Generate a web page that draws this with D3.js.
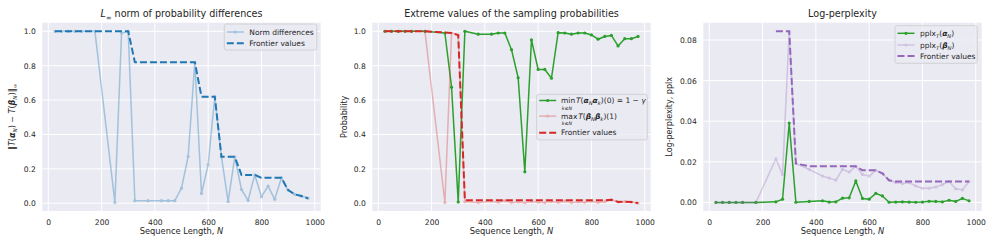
<!DOCTYPE html>
<html>
<head>
<meta charset="utf-8">
<script src="https://cdn.jsdelivr.net/npm/d3@7"></script>
<style>
  body { margin: 0; background: #fff; }
  svg { font-family: "DejaVu Sans", sans-serif; }
</style>
</head>
<body>
<div id="chart"></div>
<script>
// sequence lengths (shared by all three panels)
var seqLen = [25,50,75,100,125,175,250,275,300,325,375,425,450,475,500,525,550,575,600,625,650,675,700,725,750,775,800,825,850,875,900,925,950,975];

// panel 1: L-inf norm
var normDiff = [1,1,1,1,1,1,0.005,0.99,1.0,0.015,0.015,0.015,0.015,0.015,0.088,0.272,0.82,0.057,0.224,0.62,0.27,0.01,0.27,0.08,0.017,0.165,0.038,0.1,0.023,0.148,0.077,0.052,0.042,0.029];
var normFrontier = [1,1,1,1,1,1,1,1,1,0.82,0.82,0.82,0.82,0.82,0.82,0.82,0.82,0.62,0.62,0.62,0.27,0.27,0.27,0.165,0.165,0.165,0.148,0.148,0.148,0.148,0.077,0.052,0.042,0.029];

// panel 2: extreme sampling probabilities
var minAlpha = [1,1,1,1,1,1,0.99,0.675,0.008,1.0,0.983,0.983,0.99,0.99,0.893,0.73,0.183,0.95,0.778,0.778,0.727,0.992,0.99,0.983,0.99,0.99,0.979,0.954,0.97,0.976,0.915,0.957,0.957,0.97];
var maxBeta = [1,1,1,1,1,1,0.005,0.99,0.978,0.01,0.005,0.012,0.006,0.014,0.004,0.008,0.003,0.01,0.006,0.004,0.01,0.005,0.012,0.004,0.008,0.006,0.012,0.005,0.009,0.02,0.008,0.009,0.007,0.001];
var probFrontier = [1,1,1,1,1,1,0.993,0.99,0.978,0.017,0.017,0.017,0.017,0.017,0.017,0.017,0.017,0.017,0.017,0.017,0.017,0.017,0.017,0.017,0.017,0.017,0.017,0.017,0.017,0.02,0.008,0.009,0.007,0.001];

// panel 3: log-perplexity
var pplxAlpha = [0,0,0,0,0,0,0.0003,0.0016,0.0391,0.0001,0.0005,0.0008,0.0002,0.0003,0.0021,0.0023,0.0106,0.002,0.0016,0.0045,0.0032,0.0001,0.0002,0.0003,0.0002,0.0001,0.0002,0.0006,0.0005,0.0003,0.0011,0.0005,0.002,0.0008];
var pplxBeta = [0,0,0,0,0,0,0.0215,0.0138,0.0843,0.0192,0.0163,0.013,0.012,0.011,0.0163,0.015,0.0178,0.0138,0.013,0.0158,0.0143,0.0109,0.0098,0.0093,0.0098,0.0081,0.007,0.007,0.0076,0.0088,0.0103,0.0067,0.0062,0.0103];
var pplxFrontier = [null,null,null,null,null,null,0.0843,0.0843,0.0843,0.0192,0.0178,0.0178,0.0178,0.0178,0.0178,0.0178,0.0178,0.0158,0.0158,0.0158,0.0143,0.0109,0.0103,0.0103,0.0103,0.0103,0.0103,0.0103,0.0103,0.0103,0.0103,0.0103,0.0103,0.0103];

// tick labels
var xTicks = [0,200,400,600,800,1000];
var probTicks = [0,0.2,0.4,0.6,0.8,1.0];
var pplxTicks = [0,0.02,0.04,0.06,0.08];

var BG = "#EAEAF2", TXT = "#262626";
var blue = "#1f77b4", green = "#2ca02c", red = "#d62728", purple = "#9467bd";

var svg = d3.select("#chart").append("svg")
    .attr("width", 996)
    .attr("height", 249);

// write mixed math-ish text as tspans
// segs: {t, i (italic), b (bold), sub, mark (remember width), under (placed below the marked part)}
function richText(sel, segs, size, x0) {
  var shift = 0, markLen = 0, back = false;
  segs.forEach(function(s) {
    var ts;
    if (s.under) {
      ts = sel.append("tspan").text(s.t)
          .attr("x", x0 + 0.8)
          .attr("dy", 6.4 - shift)
          .style("font-size", "4.8px").style("font-style", "italic");
      shift = 6.4;
      back = true;
      return;
    }
    var want = s.sub ? size * 0.28 : 0;
    ts = sel.append("tspan").text(s.t)
        .attr("dy", want - shift)
        .style("font-size", (s.sub ? size * 0.7 : size) + "px");
    if (back) { ts.attr("x", x0 + markLen + 0.8); back = false; }
    if (s.i) ts.style("font-style", "italic");
    if (s.b) ts.style("font-weight", "bold");
    if (s.mark) markLen = ts.node().getComputedTextLength();
    shift = want;
  });
  return sel;
}

function panel(opt) {
  var width = 278.4, height = 188.3;
  var g = svg.append("g")
      .attr("transform", "translate(" + opt.left + "," + opt.top + ")");

  var x = d3.scaleLinear().domain([-22.5, 1022.5]).range([0, width]);
  var y = d3.scaleLinear().domain(opt.yDomain).range([height, 0]);

  g.append("rect").attr("width", width).attr("height", height).attr("fill", BG);

  // grid
  g.selectAll(".vg").data(xTicks).enter().append("line")
      .attr("x1", function(d) { return x(d); }).attr("x2", function(d) { return x(d); })
      .attr("y1", 0).attr("y2", height)
      .attr("stroke", "#fff").attr("stroke-width", 1);
  g.selectAll(".hg").data(opt.yTicks).enter().append("line")
      .attr("y1", function(d) { return y(d); }).attr("y2", function(d) { return y(d); })
      .attr("x1", 0).attr("x2", width)
      .attr("stroke", "#fff").attr("stroke-width", 1);

  // axes
  var xa = g.append("g")
      .attr("transform", "translate(0," + height + ")")
      .call(d3.axisBottom(x).tickValues(xTicks).tickSize(0).tickPadding(9).tickFormat(d3.format("d")));
  var ya = g.append("g")
      .call(d3.axisLeft(y).tickValues(opt.yTicks).tickSize(0).tickPadding(6.5).tickFormat(d3.format(opt.yFmt)));
  [xa, ya].forEach(function(a) {
    a.select(".domain").remove();
    a.selectAll("text").attr("fill", TXT).style("font-size", "7.6px").style("font-family", "DejaVu Sans");
  });

  // series
  opt.series.forEach(function(s) {
    var pts = seqLen.map(function(n, i) { return [n, s.values[i]]; })
        .filter(function(p) { return p[1] !== null; });
    var line = d3.line()
        .x(function(d) { return x(d[0]); })
        .y(function(d) { return y(d[1]); });
    var sg = g.append("g").attr("opacity", s.alpha);
    sg.append("path").datum(pts)
        .attr("d", line)
        .attr("fill", "none")
        .attr("stroke", s.color)
        .attr("stroke-width", s.dash ? 2 : 1.5)
        .attr("stroke-dasharray", s.dash ? "7,3" : null)
        .attr("stroke-linejoin", "round");
    if (s.marker) {
      sg.selectAll("circle").data(pts).enter().append("circle")
          .attr("cx", function(d) { return x(d[0]); })
          .attr("cy", function(d) { return y(d[1]); })
          .attr("r", 1.6)
          .attr("fill", s.color);
    }
  });

  // title
  richText(g.append("text")
      .attr("x", width / 2).attr("y", -5.5)
      .attr("text-anchor", "middle").attr("fill", TXT), opt.title, 9.6, 0);

  // x label
  richText(g.append("text")
      .attr("x", width / 2).attr("y", height + 23.5)
      .attr("text-anchor", "middle").attr("fill", TXT),
      [{t: "Sequence Length, "}, {t: "N", i: true}], 8.3, 0);

  // y label
  richText(g.append("text")
      .attr("transform", "translate(" + opt.yLabelX + "," + (height / 2) + ") rotate(-90)")
      .attr("text-anchor", "middle").attr("fill", TXT), opt.yLabel, 8, 0);

  // legend
  var L = opt.legend;
  var lg = g.append("g").attr("transform", "translate(" + (L.x - opt.left) + "," + (L.y - opt.top) + ")");
  lg.append("rect")
      .attr("width", L.w).attr("height", L.h).attr("rx", 2)
      .attr("fill", BG).attr("fill-opacity", 0.8)
      .attr("stroke", "#cccccc").attr("stroke-width", 0.8);
  L.rows.forEach(function(r, i) {
    var s = opt.series[i];
    var ry = L.rowY[i];
    var hg = lg.append("g").attr("opacity", s.alpha);
    hg.append("line")
        .attr("x1", 2.5).attr("x2", 19.5).attr("y1", ry).attr("y2", ry)
        .attr("stroke", s.color)
        .attr("stroke-width", s.dash ? 2 : 1.5)
        .attr("stroke-dasharray", s.dash ? "7,3" : null);
    if (s.marker) hg.append("circle").attr("cx", 11).attr("cy", ry).attr("r", 1.6).attr("fill", s.color);
    var t = lg.append("text").attr("x", L.textX).attr("y", ry + 2.7).attr("fill", TXT);
    richText(t, r.segs, 7.5, L.textX);
  });
}

var alphaN = [{t: "α", i: true, b: true}, {t: "N", i: true, sub: true}];
var betaN = [{t: "β", i: true, b: true}, {t: "N", i: true, sub: true}];

panel({
  left: 42.3, top: 22.7,
  yDomain: [-0.045, 1.05], yTicks: probTicks, yFmt: ".1f",
  title: [{t: "L", i: true}, {t: "∞", sub: true}, {t: " norm of probability differences"}],
  yLabel: [{t: "‖"}, {t: "T", i: true}, {t: "("}].concat(alphaN, [{t: ") − "}, {t: "T", i: true}, {t: "("}], betaN, [{t: ")‖"}, {t: "∞", sub: true}]),
  yLabelX: -27.5,
  series: [
    {values: normDiff, color: blue, alpha: 0.35, marker: true},
    {values: normFrontier, color: blue, alpha: 1, dash: true}
  ],
  legend: {x: 224.3, y: 24, w: 92.5, h: 26, textX: 25, rowY: [8, 19.3],
    rows: [{segs: [{t: "Norm differences"}]}, {segs: [{t: "Frontier values"}]}]}
});

panel({
  left: 372.3, top: 22.7,
  yDomain: [-0.045, 1.05], yTicks: probTicks, yFmt: ".1f",
  title: [{t: "Extreme values of the sampling probabilities"}],
  yLabel: [{t: "Probability"}],
  yLabelX: -25.5,
  series: [
    {values: minAlpha, color: green, alpha: 1, marker: true},
    {values: maxBeta, color: red, alpha: 0.3, marker: true},
    {values: probFrontier, color: red, alpha: 1, dash: true}
  ],
  legend: {x: 536.7, y: 94.3, w: 110.6, h: 45.5, textX: 24.3, rowY: [6.2, 21.8, 38.5],
    rows: [
      {segs: [{t: "min", mark: true}, {t: "k≤N", under: true}, {t: "T", i: true}, {t: "("}].concat(alphaN, [{t: "α", i: true, b: true}, {t: "k", i: true, sub: true}, {t: ")(0) = 1 − "}, {t: "γ", i: true}])},
      {segs: [{t: "max", mark: true}, {t: "k≤N", under: true}, {t: "T", i: true}, {t: "("}].concat(betaN, [{t: "β", i: true, b: true}, {t: "k", i: true, sub: true}, {t: ")(1)"}])},
      {segs: [{t: "Frontier values"}]}
    ]}
});

panel({
  left: 703.3, top: 22.7,
  yDomain: [-0.0042, 0.0885], yTicks: pplxTicks, yFmt: ".2f",
  title: [{t: "Log-perplexity"}],
  yLabel: [{t: "Log-perplexity, pplx"}],
  yLabelX: -31.5,
  series: [
    {values: pplxAlpha, color: green, alpha: 1, marker: true},
    {values: pplxBeta, color: purple, alpha: 0.3, marker: true},
    {values: pplxFrontier, color: purple, alpha: 1, dash: true}
  ],
  legend: {x: 895, y: 25.7, w: 82.3, h: 37.6, textX: 25, rowY: [7.6, 19.3, 30.3],
    rows: [
      {segs: [{t: "pplx"}, {t: "T", i: true, sub: true}, {t: "("}].concat(alphaN, [{t: ")"}])},
      {segs: [{t: "pplx"}, {t: "T", i: true, sub: true}, {t: "("}].concat(betaN, [{t: ")"}])},
      {segs: [{t: "Frontier values"}]}
    ]}
});
</script>
</body>
</html>
